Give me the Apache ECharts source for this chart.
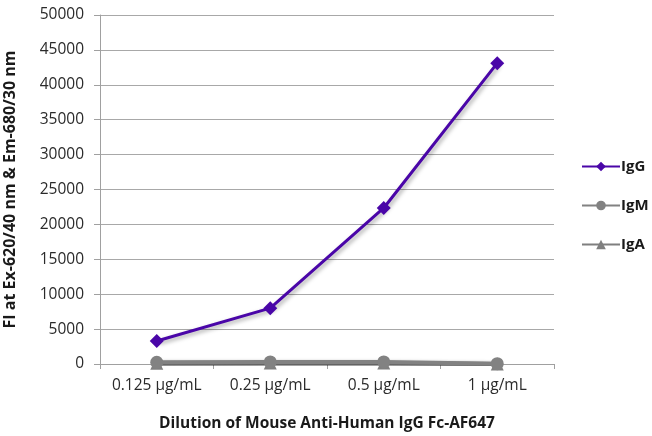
<!DOCTYPE html>
<html><head><meta charset="utf-8">
<script src="https://cdn.jsdelivr.net/npm/echarts@6/dist/echarts.min.js"></script>
<style>html,body{margin:0;padding:0;background:#fff}#c{width:652px;height:436px}</style>
</head><body><div id="c"></div>
<script>
const categories = ['0.125 µg/mL', '0.25 µg/mL', '0.5 µg/mL', '1 µg/mL'];
const igG = [3300, 8000, 22350, 43100];
const igM = [250, 300, 300, 50];
const igA = [100, 150, 150, 0];
const yTicks = { min: 0, max: 50000, interval: 5000 };

const font = '"Open Sans", "Noto Sans", sans-serif';
const chart = echarts.init(document.getElementById('c'));
const shadow = { shadowColor: 'rgba(0,0,0,0.35)', shadowBlur: 4, shadowOffsetX: 2, shadowOffsetY: 2 };
chart.setOption({
  animation: false,
  grid: { left: 100, right: 98, top: 15, bottom: 72, containLabel: false, outerBoundsMode: 'none' },
  legend: {
    left: 576, top: 154, orient: 'vertical', itemGap: 24, itemWidth: 38, itemHeight: 12,
    textStyle: { fontFamily: font, fontSize: 15, fontWeight: 'bold', color: '#1a1a1a', padding: [0, 0, 0, -4] },
    data: ['IgG', 'IgM', 'IgA']
  },
  xAxis: {
    type: 'category', data: categories, boundaryGap: true,
    name: 'Dilution of Mouse Anti-Human IgG Fc-AF647', nameLocation: 'middle', nameGap: 52,
    nameTextStyle: { fontFamily: font, fontSize: 15.5, fontWeight: 'bold', color: '#1a1a1a' },
    axisLine: { lineStyle: { color: '#a0a0a0' } },
    axisTick: { show: true, alignWithLabel: false, length: 5, lineStyle: { color: '#a0a0a0' } },
    axisLabel: { fontFamily: font, fontSize: 15.5, color: '#2a2a2a', margin: 14, interval: 0 }
  },
  yAxis: {
    type: 'value', min: yTicks.min, max: yTicks.max, interval: yTicks.interval,
    name: 'FI at Ex-620/40 nm & Em-680/30 nm', nameLocation: 'middle', nameGap: 82,
    nameTextStyle: { fontFamily: font, fontSize: 16, fontWeight: 'bold', color: '#1a1a1a' },
    axisLine: { show: true, lineStyle: { color: '#a0a0a0' } },
    axisTick: { show: true, length: 6, lineStyle: { color: '#a0a0a0' } },
    axisLabel: { fontFamily: font, fontSize: 15.5, color: '#2a2a2a', margin: 16, formatter: v => String(v) },
    splitLine: { lineStyle: { color: '#a8a8a8' } }
  },
  series: [
    { name: 'IgA', type: 'line', data: igA, symbol: 'triangle', symbolSize: 13,
      itemStyle: { color: '#7f7f7f' }, lineStyle: Object.assign({ width: 4, color: '#7f7f7f' }, shadow) },
    { name: 'IgM', type: 'line', data: igM, symbol: 'circle', symbolSize: 13,
      itemStyle: { color: '#828282' }, lineStyle: Object.assign({ width: 4, color: '#828282' }, shadow) },
    { name: 'IgG', type: 'line', data: igG, symbol: 'diamond', symbolSize: 14,
      itemStyle: { color: '#4a06a8' }, lineStyle: Object.assign({ width: 3, color: '#4a06a8' }, shadow) }
  ]
});
</script></body></html>
